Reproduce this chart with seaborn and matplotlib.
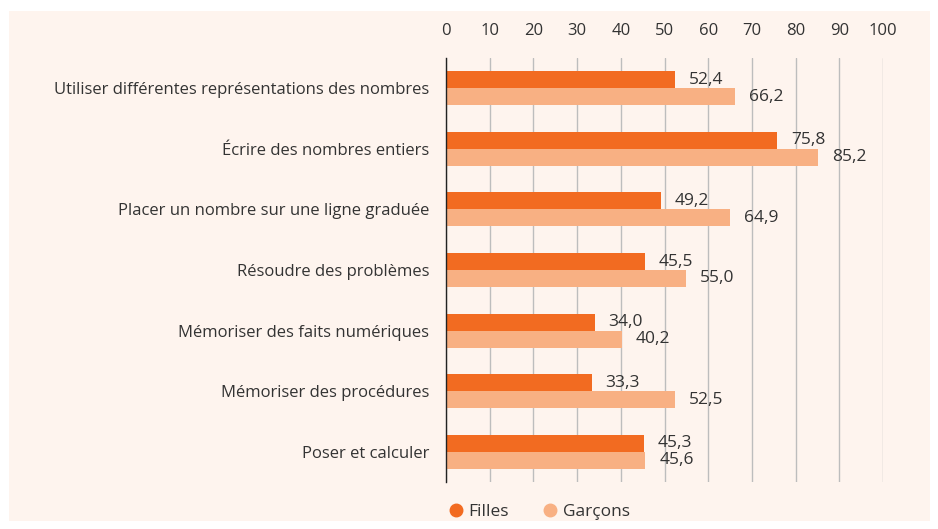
import pandas as pd
import matplotlib.pyplot as plt
import seaborn as sns
from matplotlib.lines import Line2D
from matplotlib.patches import Rectangle

categories = [
    'Utiliser différentes représentations des nombres',
    'Écrire des nombres entiers',
    'Placer un nombre sur une ligne graduée',
    'Résoudre des problèmes',
    'Mémoriser des faits numériques',
    'Mémoriser des procédures',
    'Poser et calculer',
]
filles = [52.4, 75.8, 49.2, 45.5, 34.0, 33.3, 45.3]
garcons = [66.2, 85.2, 64.9, 55.0, 40.2, 52.5, 45.6]
series = ['Filles', 'Garçons']
ticks = list(range(0, 101, 10))

colors = {'Filles': '#F26B21', 'Garçons': '#F8B083'}
bg = '#FEF4EE'
txt = '#333333'

df = pd.DataFrame({
    'cat': categories * 2,
    'val': filles + garcons,
    'sexe': ['Filles'] * len(categories) + ['Garçons'] * len(categories),
})

sns.set_style('white')
plt.rcParams['font.family'] = ['Open Sans', 'DejaVu Sans']

fig = plt.figure(figsize=(9.38, 5.29), dpi=100)
fig.patch.set_facecolor('white')
fig.patches.append(Rectangle((9 / 938, 1 - 521 / 529), 921 / 938, 510 / 529,
                             transform=fig.transFigure, facecolor=bg,
                             edgecolor='none', zorder=-10))

ax = fig.add_axes([446 / 938, 1 - 482 / 529, 437 / 938, 424 / 529])
ax.patch.set_alpha(0)

sns.barplot(data=df, y='cat', x='val', hue='sexe', palette=colors,
            orient='h', width=0.56, ax=ax, legend=False, saturation=1,
            linewidth=0)

for cont in ax.containers:
    ax.bar_label(cont, labels=[f'{v:.1f}'.replace('.', ',') for v in cont.datavalues],
                 padding=10, fontsize=12.5, color=txt)

ax.set_xlim(0, 100)
ax.set_xticks(ticks)
ax.xaxis.tick_top()
ax.tick_params(axis='x', length=0, pad=14, labelsize=12, colors=txt)
ax.tick_params(axis='y', length=0, pad=12, labelsize=12, colors=txt)
ax.grid(axis='x', color='#BDBDBD', linewidth=1)
ax.set_axisbelow(True)
ax.set_xlabel('')
ax.set_ylabel('')
for s in ['top', 'right', 'bottom']:
    ax.spines[s].set_visible(False)
ax.spines['left'].set_color('#222222')
ax.spines['left'].set_linewidth(1)

handles = [Line2D([], [], marker='o', linestyle='', markersize=9,
                  markerfacecolor=colors[s], markeredgecolor=colors[s], label=s)
           for s in series]
fig.legend(handles=handles, loc='center', bbox_to_anchor=(0.575, 0.032), ncol=2,
           frameon=False, fontsize=12.5, handlelength=0.8, handletextpad=0.3,
           columnspacing=2.0, labelcolor=txt)

fig.savefig('out.png', dpi=100)
